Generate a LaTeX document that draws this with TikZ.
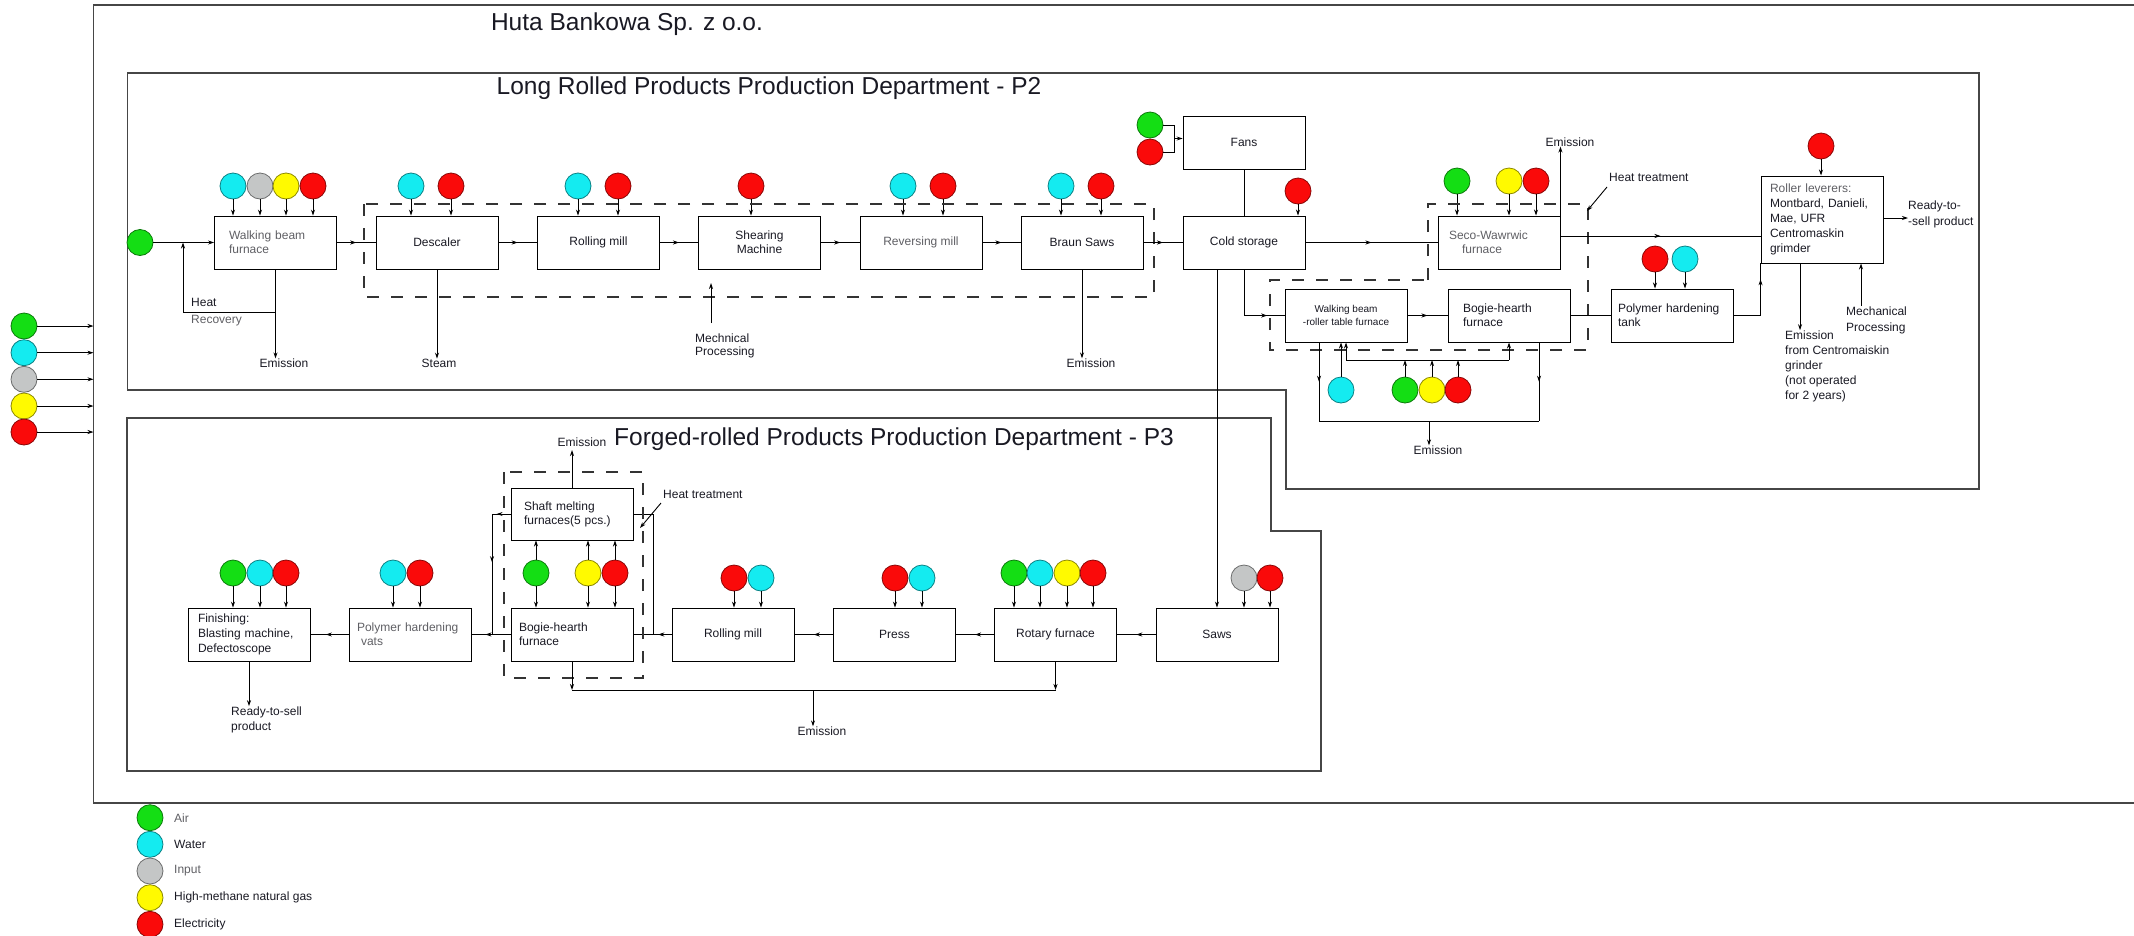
\documentclass[tikz,border=0pt]{standalone}
\usepackage{fontspec}
\setmainfont{Liberation Sans}
\usetikzlibrary{arrows.meta,decorations.markings}
\definecolor{cAir}{RGB}{20,222,20}
\definecolor{cWat}{RGB}{20,235,240}
\definecolor{cInp}{RGB}{196,198,198}
\definecolor{cGas}{RGB}{255,250,0}
\definecolor{cEl}{RGB}{250,10,10}
\definecolor{frm}{RGB}{70,70,70}
\definecolor{txt}{RGB}{25,25,35}
\definecolor{gtxt}{RGB}{95,95,100}
\begin{document}
\begin{tikzpicture}[x=1pt,y=-1pt,
  every node/.style={text=txt},
  box/.style={draw=black,line width=0.9pt,minimum width=122pt,minimum height=53pt,inner sep=0pt,font=\fontsize{12}{14}\selectfont,align=center},
  lbox/.style={box,align=left,text width=#1},
  ball/.style={circle,draw=#1!55!black,fill=#1,line width=0.8pt,minimum size=26pt,inner sep=0pt},
  lab/.style={font=\fontsize{12}{14}\selectfont,inner sep=0pt,align=left},
  ttl/.style={font=\fontsize{24.5}{28}\selectfont,inner sep=0pt},
  ln/.style={line width=0.9pt,draw=black},
  arr/.style={ln,-{Stealth[length=6pt,width=4pt]}},
  marr/.style={ln,postaction={decorate},decoration={markings,mark=at position #1 with {\arrow{Stealth[length=6pt,width=4pt]}}}},
  marr/.default=0.5,
  dsh/.style={line width=1.1pt,draw=black!80,dash pattern=on 12pt off 12pt},
  frame/.style={line width=1.6pt,draw=frm},
]
\useasboundingbox (0,0) rectangle (2134,935);

% ---------- frames ----------
\draw[frame] (2134,5) -- (93.5,5) -- (93.5,803) -- (2134,803);
\draw[frame] (127.5,73) -- (1979,73) -- (1979,489) -- (1286,489) -- (1286,390) -- (127.5,390) -- cycle;
\draw[frame] (127,418) -- (1271,418) -- (1271,531) -- (1321,531) -- (1321,771) -- (127,771) -- cycle;

\node[ttl] (t0) at (627,24) {Huta Bankowa Sp. z o.o.};
\node[ttl] (t2) at (769,88.5) {Long Rolled Products Production Department - P2};
\node[ttl] (t3) at (894,439) {Forged-rolled Products Production Department - P3};

% ---------- left inputs ----------
\foreach \c/\y/\n in {cAir/326/i1, cWat/352.7/i2, cInp/379.3/i3, cGas/406/i4, cEl/432/i5} {
  \node[ball=\c] (\n) at (24,\y) {};
  \coordinate (\n t) at (93.5,\y);
  \draw[arr] (\n.east) -- (\n t);
}

% ---------- P2 boxes ----------
\node[lbox=93,text=gtxt] (wbf) at (275.5,242.5) {Walking beam\\furnace};
\node[box] (desc) at (437,242.5) {Descaler};
\node[box] (rm2) at (598.5,242.5) {Rolling mill};
\node[box] (shear) at (759.5,242.5) {Shearing\\Machine};
\node[box,text=gtxt] (rev) at (921,242.5) {Reversing mill};
\node[box] (braun) at (1082,242.5) {Braun Saws};
\node[box] (cold) at (1244,242.5) {Cold storage};
\node[box] (fans) at (1244,142.5) {Fans};
\node[lbox=100,text=gtxt] (seco) at (1499,242.5) {Seco-Wawrwic\\\hspace*{13pt}furnace};
\node[box,font=\fontsize{10}{13}\selectfont] (wbr) at (1346,315.5) {Walking beam\\-roller table furnace};
\node[lbox=92] (bog2) at (1509,315.5) {Bogie-hearth\\furnace};
\node[lbox=108] (pol2) at (1672,315.5) {Polymer hardening\\tank};
\node[lbox=104,minimum height=87pt,font=\fontsize{12}{15}\selectfont] (rol) at (1822,219.5) {\textcolor{gtxt}{Roller leverers:}\\Montbard, Danieli,\\Mae, UFR\\Centromaskin\\grimder};

% ---------- P3 boxes ----------
\node[box] (saws) at (1217,634.5) {Saws};
\node[box] (rot) at (1055.5,634.5) {Rotary furnace};
\node[box] (press) at (894.5,634.5) {Press};
\node[box] (rm3) at (733,634.5) {Rolling mill};
\node[lbox=106] (bog3) at (572,634.5) {Bogie-hearth\\furnace};
\node[lbox=96,minimum height=52pt] (shaft) at (572,514) {Shaft melting\\furnaces(5 pcs.)};
\node[lbox=107,text=gtxt] (vats) at (410.5,634.5) {Polymer hardening\\\hspace*{4pt}vats};
\node[lbox=102,font=\fontsize{12}{15}\selectfont] (fin) at (249,634.5) {Finishing:\\Blasting machine,\\Defectoscope};

% ---------- P2 circles ----------
\foreach \c/\x/\n in {cWat/233/a1, cInp/260/a2, cGas/286/a3, cEl/313/a4} {
  \node[ball=\c] (\n) at (\x,186) {}; \draw[arr] (\n.south) -- (\n.south |- wbf.north);}
\foreach \c/\x/\n in {cWat/411/d1, cEl/451/d2} {
  \node[ball=\c] (\n) at (\x,186) {}; \draw[arr] (\n.south) -- (\n.south |- desc.north);}
\foreach \c/\x/\n in {cWat/578/r1, cEl/618/r2} {
  \node[ball=\c] (\n) at (\x,186) {}; \draw[arr] (\n.south) -- (\n.south |- rm2.north);}
\node[ball=cEl] (s1) at (751,186) {}; \draw[arr] (s1.south) -- (s1.south |- shear.north);
\foreach \c/\x/\n in {cWat/903/v1, cEl/943/v2} {
  \node[ball=\c] (\n) at (\x,186) {}; \draw[arr] (\n.south) -- (\n.south |- rev.north);}
\foreach \c/\x/\n in {cWat/1061/b1, cEl/1101/b2} {
  \node[ball=\c] (\n) at (\x,186) {}; \draw[arr] (\n.south) -- (\n.south |- braun.north);}
\node[ball=cEl] (c1) at (1298,191) {}; \draw[arr] (c1.south) -- (c1.south |- cold.north);
\foreach \c/\x/\n in {cAir/1457/w1, cGas/1509/w2, cEl/1536/w3} {
  \node[ball=\c] (\n) at (\x,181) {}; \draw[arr] (\n.south) -- (\n.south |- seco.north);}
\foreach \c/\x/\n in {cEl/1655/p1, cWat/1685/p2} {
  \node[ball=\c] (\n) at (\x,259) {}; \draw[arr] (\n.south) -- (\n.south |- pol2.north);}
\node[ball=cEl] (rr) at (1821,146) {}; \draw[arr] (rr.south) -- (rr.south |- rol.north);

% ---------- P2 connectors ----------
\node[ball=cAir] (g0) at (140,242.5) {};
\draw[arr] (g0.east) -- (wbf.west);
\node[lab] (em1) at (284,363) {Emission};
\draw[arr] (wbf.south) -- (wbf.south |- em1.north);
\coordinate (hr) at (275.5,312);
\coordinate (hr2) at (183,312);
\coordinate (hr3) at (183,242.5);
\draw[arr] (hr) -- (hr2) -- (hr3);
\node[lab,anchor=west,font=\fontsize{12}{17}\selectfont] (hrl) at (191,312.5) {Heat\\\textcolor{gtxt}{Recovery}};
\node[lab] (steam) at (439,363) {Steam};
\draw[arr] (desc.south) -- (desc.south |- steam.north);
\draw[dsh] (364,204) rectangle (1154,297);
\draw[marr] (wbf.east) -- (desc.west);
\draw[marr] (desc.east) -- (rm2.west);
\draw[marr] (rm2.east) -- (shear.west);
\draw[marr] (shear.east) -- (rev.west);
\draw[marr] (rev.east) -- (braun.west);
\draw[marr] (braun.east) -- (cold.west);
\node[lab,anchor=west,font=\fontsize{12}{13}\selectfont] (mp1) at (695,345.5) {Mechnical\\Processing};
\coordinate (mp1a) at (711,323); \coordinate (mp1b) at (711,283);
\draw[arr] (mp1a) -- (mp1b);
\node[lab] (em2) at (1091,363) {Emission};
\draw[arr] (braun.south) -- (braun.south |- em2.north);

\node[ball=cAir] (fg) at (1150,125) {};
\node[ball=cEl] (fr) at (1150,152) {};
\coordinate (fj) at (1174,138.5);
\draw[ln] (fg.east) -- (fg.east -| fj) -- (fr.east -| fj) -- (fr.east);
\draw[arr] (fj) -- (fj -| fans.west);
\draw[ln] (fans.south) -- (cold.north);

\draw[marr] (cold.east) -- (seco.west);
\node[lab] (em3) at (1570,142) {Emission};
\draw[arr] (seco.north east) -- (seco.north east |- em3.south);
\draw[dsh] (1428,280) -- (1428,204) -- (1588,204) -- (1588,350) -- (1270,350) -- (1270,280) -- cycle;
\node[lab,anchor=west] (ht1) at (1609,177) {Heat treatment};
\coordinate (ht1a) at (1607,187); \coordinate (ht1b) at (1587,211);
\draw[arr] (ht1a) -- (ht1b);

\draw[marr=0.8] (cold.south) |- (wbr.west);
\draw[arr] (cold.south -| saws.north) -- (saws.north);
\draw[marr] (wbr.east) -- (bog2.west);
\draw[ln] (bog2.east) -- (pol2.west);
\draw[marr=0.8] (pol2.east) -| (rol.south west);
\coordinate (y236) at (0,236);
\draw[marr] (seco.east |- y236) -- (rol.west |- y236);
\coordinate (y218) at (0,218);
\node[lab,anchor=west,font=\fontsize{12}{16}\selectfont] (rts1) at (1908,214) {Ready-to-\\-sell product};
\draw[arr] (rol.east |- y218) -- (rts1.west |- y218);
\node[lab,anchor=west,font=\fontsize{12}{15}\selectfont] (em4) at (1785,366) {Emission\\from Centromaiskin\\grinder\\(not operated\\for 2 years)};
\coordinate (e4x) at (1800,0);
\draw[arr] (rol.south -| e4x) -- (e4x |- em4.north);
\node[lab,anchor=west,font=\fontsize{12}{16}\selectfont] (mp2) at (1846,320) {Mechanical\\Processing};
\coordinate (m2x) at (1861,0);
\draw[arr] (mp2.north -| m2x) -- (rol.south -| m2x);

\node[ball=cWat] (bw) at (1341,390) {};
\draw[arr] (bw.north) -- (bw.north |- wbr.south);
\coordinate (ja) at (1346,360); \coordinate (jb) at (1509,360);
\foreach \c/\x/\n in {cAir/1405/bg, cGas/1432/by, cEl/1458/br} {
  \node[ball=\c] (\n) at (\x,390) {}; \draw[arr] (\n.north) -- (\n.north |- ja);}
\draw[ln] (ja) -- (jb);
\draw[arr] (ja) -- (ja |- wbr.south);
\draw[arr] (jb) -- (jb |- bog2.south);
\coordinate (ea) at (1319,421); \coordinate (eb) at (1539,421);
\draw[marr] (ea |- wbr.south) -- (ea);
\draw[marr] (eb |- bog2.south) -- (eb);
\draw[ln] (ea) -- (eb);
\node[lab] (em5) at (1438,450) {Emission};
\coordinate (ec) at (1429,421);
\draw[arr] (ec) -- (ec |- em5.north);

% ---------- P3 circles ----------
\foreach \c/\x/\n in {cInp/1244/q1, cEl/1270/q2} {
  \node[ball=\c] (\n) at (\x,578) {}; \draw[arr] (\n.south) -- (\n.south |- saws.north);}
\foreach \c/\x/\n in {cAir/1014/o1, cWat/1040/o2, cGas/1067/o3, cEl/1093/o4} {
  \node[ball=\c] (\n) at (\x,573) {}; \draw[arr] (\n.south) -- (\n.south |- rot.north);}
\foreach \c/\x/\n in {cEl/895/e1, cWat/922/e2} {
  \node[ball=\c] (\n) at (\x,578) {}; \draw[arr] (\n.south) -- (\n.south |- press.north);}
\foreach \c/\x/\n in {cEl/734/m1, cWat/761/m2} {
  \node[ball=\c] (\n) at (\x,578) {}; \draw[arr] (\n.south) -- (\n.south |- rm3.north);}
\foreach \c/\x/\n in {cWat/393/h1, cEl/420/h2} {
  \node[ball=\c] (\n) at (\x,573) {}; \draw[arr] (\n.south) -- (\n.south |- vats.north);}
\foreach \c/\x/\n in {cAir/233/f1, cWat/260/f2, cEl/286/f3} {
  \node[ball=\c] (\n) at (\x,573) {}; \draw[arr] (\n.south) -- (\n.south |- fin.north);}
\foreach \c/\x/\n in {cAir/536/k1, cGas/588/k2, cEl/615/k3} {
  \node[ball=\c] (\n) at (\x,573) {};
  \draw[arr] (\n.north) -- (\n.north |- shaft.south);
  \draw[arr] (\n.south) -- (\n.south |- bog3.north);}

% ---------- P3 connectors ----------
\draw[marr] (saws.west) -- (rot.east);
\draw[marr] (rot.west) -- (press.east);
\draw[marr] (press.west) -- (rm3.east);
\draw[marr=0.35] (rm3.west) -- (bog3.east);
\coordinate (jr) at (653,634.5);
\draw[ln] (jr) |- (shaft.east);
\coordinate (jl) at (492,514);
\draw[marr=0.75] (shaft.west) -- (jl);
\draw[marr=0.4] (jl) -- (jl |- bog3.west);
\draw[marr=0.65] (bog3.west) -- (vats.east);
\draw[marr=0.6] (vats.west) -- (fin.east);
\node[lab,anchor=west,font=\fontsize{12}{15}\selectfont] (rts2) at (231,719.5) {Ready-to-sell\\product};
\draw[arr] (fin.south) -- (fin.south |- rts2.north);
\node[lab] (em6) at (582,442) {Emission};
\coordinate (e6) at (572,450);
\draw[arr] (shaft.north) -- (e6);
\draw[dsh] (504,472) rectangle (643,678);
\node[lab,anchor=west] (ht2) at (663,494) {Heat treatment};
\coordinate (ht2a) at (661,503); \coordinate (ht2b) at (640,528);
\draw[arr] (ht2a) -- (ht2b);
\coordinate (bb1) at (572,690); \coordinate (bb2) at (1055.5,690); \coordinate (bb3) at (813,690);
\draw[arr] (bog3.south) -- (bb1);
\draw[arr] (rot.south) -- (bb2);
\draw[ln] (bb1) -- (bb2);
\node[lab] (em7) at (822,731) {Emission};
\draw[arr] (bb3) -- (bb3 |- em7.north);

% ---------- legend ----------
\node[ball=cAir] (l1) at (150,817.7) {};
\node[lab,anchor=west,text=gtxt] (lt1) at (174,817.7) {Air};
\node[ball=cWat] (l2) at (150,844.3) {};
\node[lab,anchor=west] (lt2) at (174,844.3) {Water};
\node[ball=cInp] (l3) at (150,871) {};
\node[lab,anchor=west,text=gtxt] (lt3) at (174,871) {Input};
\node[ball=cGas] (l4) at (150,897.7) {};
\node[lab,anchor=west] (lt4) at (174,897.7) {High-methane natural gas};
\node[ball=cEl] (l5) at (150,924.3) {};
\node[lab,anchor=west] (lt5) at (174,924.3) {Electricity};
\end{tikzpicture}
\end{document}
